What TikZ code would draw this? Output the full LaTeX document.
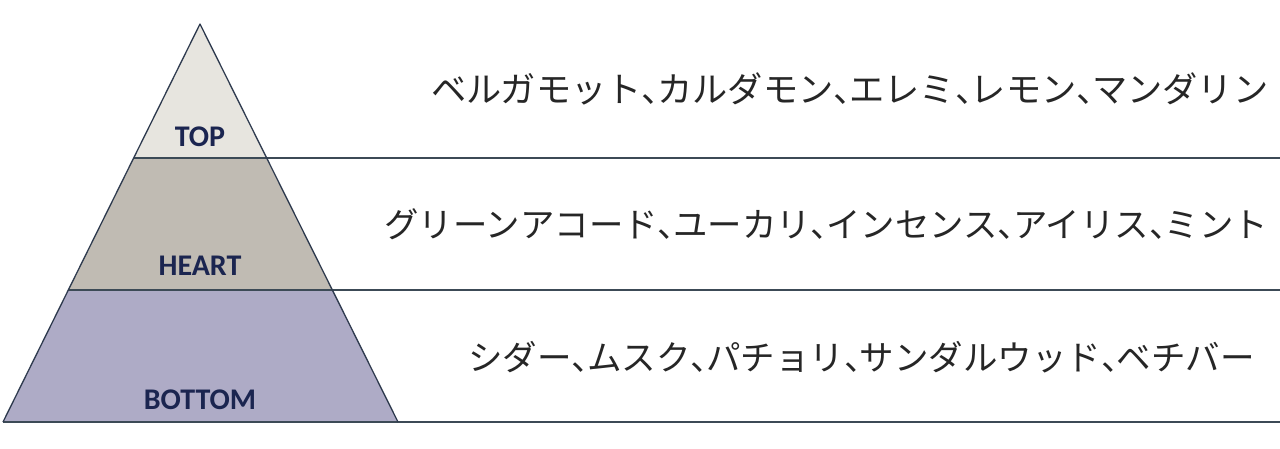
\documentclass[tikz,border=0pt]{standalone}
\usepackage{fontspec}
\setmainfont{Carlito}
\newfontfamily\jpfont{Noto Sans CJK JP}
\newcommand{\tcomma}{\makebox[0.45em][l]{、}}
\definecolor{topfill}{HTML}{E7E5DF}
\definecolor{heartfill}{HTML}{C0BBB3}
\definecolor{botfill}{HTML}{AEABC6}
\definecolor{edge}{HTML}{2E3A4E}
\definecolor{rule}{HTML}{3C4A56}
\definecolor{labelc}{HTML}{1B2550}
\tikzset{
  band/.style={draw=edge, line width=1.3pt, line join=round},
  rulel/.style={draw=rule, line width=1.4pt},
  tierlabel/.style={font=\fontsize{30}{30}\selectfont\bfseries, text=labelc, anchor=base, inner sep=0pt},
  notes/.style={text=black!85, anchor=base east, inner sep=0pt}
}
\begin{document}
\begin{tikzpicture}[x=1pt,y=-1pt]
\useasboundingbox (0,0) rectangle (1280,448);
\fill[white] (0,0) rectangle (1280,448);
\coordinate (apex) at (200,24);
\coordinate (tl) at (134,158);
\coordinate (tr) at (266,158);
\coordinate (hl) at (68,290);
\coordinate (hr) at (333,290);
\coordinate (bl) at (3,422);
\coordinate (br) at (398,422);
\coordinate (e1) at (1280,158);
\coordinate (e2) at (1280,290);
\coordinate (e3) at (1280,422);
\fill[botfill] (hl) -- (hr) -- (br) -- (bl) -- cycle;
\fill[heartfill] (tl) -- (tr) -- (hr) -- (hl) -- cycle;
\fill[topfill] (apex) -- (tr) -- (tl) -- cycle;
\draw[rulel] (tl) -- (e1);
\draw[rulel] (hl) -- (e2);
\draw[rulel] (bl) -- (e3);
\draw[band] (bl) -- (apex) -- (br);
\node[tierlabel] (top) at (200,146.5) {TOP};
\node[tierlabel] (heart) at (200,275) {HEART};
\node[tierlabel] (bottom) at (200,409) {BOTTOM};
\node[notes, font=\jpfont\fontsize{35.2}{36}\selectfont] (n1) at (1268.5,102.5) {ベルガモット\tcomma カルダモン\tcomma エレミ\tcomma レモン\tcomma マンダリン};
\node[notes, font=\jpfont\fontsize{34.4}{36}\selectfont] (n2) at (1268,237) {グリーンアコード\tcomma ユーカリ\tcomma インセンス\tcomma アイリス\tcomma ミント};
\node[notes, font=\jpfont\fontsize{34.5}{36}\selectfont] (n3) at (1255,370.5) {シダー\tcomma ムスク\tcomma パチョリ\tcomma サンダルウッド\tcomma ベチバー};
\end{tikzpicture}
\end{document}
